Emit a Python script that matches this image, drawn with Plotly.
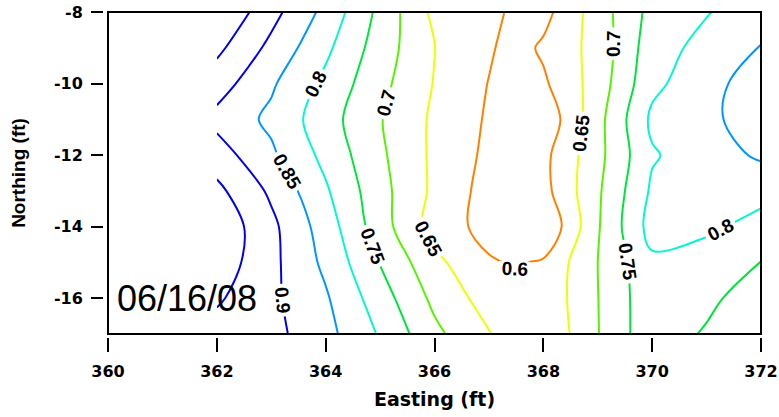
import plotly.graph_objects as go

# grid of the measured field (Easting columns, Northing rows)
easting = [362, 363, 364, 365, 366, 367, 367.5, 368, 369, 370, 371, 372]
northing = [-17, -16, -15, -14, -13, -12, -11, -10, -9, -8]

row_m17 = [0.930, 0.915, 0.866, 0.795, 0.712, 0.653, 0.620, 0.605, 0.698, 0.785, 0.743, 0.700]
row_m16 = [0.957, 0.911, 0.856, 0.773, 0.688, 0.628, 0.615, 0.612, 0.699, 0.785, 0.765, 0.715]
row_m15 = [0.980, 0.913, 0.839, 0.748, 0.663, 0.605, 0.595, 0.606, 0.700, 0.790, 0.775, 0.749]
row_m14 = [0.988, 0.912, 0.826, 0.723, 0.628, 0.583, 0.560, 0.552, 0.695, 0.820, 0.810, 0.782]
row_m13 = [0.9625, 0.891, 0.8065, 0.717, 0.6394, 0.5806, 0.565, 0.583, 0.692, 0.808, 0.812, 0.817]
row_m12 = [0.924, 0.8586, 0.786, 0.709, 0.6398, 0.589, 0.570, 0.586, 0.685, 0.795, 0.828, 0.857]
row_m11 = [0.885, 0.8395, 0.772, 0.703, 0.641, 0.594, 0.572, 0.562, 0.683, 0.810, 0.841, 0.870]
row_m10 = [0.923, 0.857, 0.7875, 0.7145, 0.6475, 0.5985, 0.575, 0.592, 0.6726, 0.788, 0.832, 0.877]
row_m9 = [0.962, 0.887, 0.811, 0.726, 0.651, 0.606, 0.581, 0.608, 0.668, 0.778, 0.816, 0.852]
row_m8 = [1.000, 0.917, 0.836, 0.737, 0.637, 0.608, 0.594, 0.583, 0.675, 0.766, 0.797, 0.830]

z_rows = [row_m17, row_m16, row_m15, row_m14, row_m13, row_m12,
          row_m11, row_m10, row_m9, row_m8]

x_ticks = [360, 362, 364, 366, 368, 370, 372]
y_ticks = [-16, -14, -12, -10, -8]
date_label = "06/16/08"

# line colours for levels 0.60 .. 0.95
level_colors = [
    [0 / 7, "rgb(255,128,0)"],
    [1 / 7, "rgb(255,255,0)"],
    [2 / 7, "rgb(128,255,0)"],
    [3 / 7, "rgb(0,220,0)"],
    [4 / 7, "rgb(0,235,120)"],
    [5 / 7, "rgb(0,255,255)"],
    [6 / 7, "rgb(0,128,255)"],
    [7 / 7, "rgb(0,0,235)"],
]

fig = go.Figure()
fig.add_trace(go.Contour(
    x=easting, y=northing, z=z_rows,
    zauto=False, zmin=0.6, zmax=0.95,
    colorscale=level_colors, showscale=False,
    autocontour=False,
    contours=dict(start=0.6, end=0.95, size=0.05, coloring="lines",
                  showlabels=True,
                  labelfont=dict(family="Liberation Sans, Arial", size=19,
                                 color="black", weight="bold")),
    line=dict(width=2, smoothing=1.0),
    hoverinfo="skip",
))

W, H = 779, 417
L, R, T, B = 103, 18, 12, 80
pw = W - L - R
ph = H - T - B
xd0 = 5 / pw
yd0 = 3 / ph

tickfont = dict(family="DejaVu Sans", size=16, color="black")

fig.update_layout(
    template="none",
    width=W, height=H,
    margin=dict(l=L, r=R, t=T, b=B),
    paper_bgcolor="white", plot_bgcolor="white",
    showlegend=False,
    xaxis=dict(domain=[xd0, 1], range=[360, 372], anchor="free", position=0,
               automargin=False, ticklabeloverflow="allow",
               tickvals=x_ticks, ticktext=[f"<b>{v}</b>" for v in x_ticks],
               ticks="outside", ticklen=14, tickwidth=1.5, tickcolor="black",
               ticklabelstandoff=6,
               showgrid=False, zeroline=False, showline=False,
               tickfont=tickfont,
               title=dict(text="<b>Easting (ft)</b>", standoff=12,
                          font=dict(family="DejaVu Sans", size=19, color="black"))),
    yaxis=dict(domain=[yd0, 1], range=[-17, -8], anchor="free", position=0,
               automargin=False, ticklabeloverflow="allow",
               tickvals=y_ticks, ticktext=[f"<b>{v}</b>" for v in y_ticks],
               ticks="outside", ticklen=12, tickwidth=1.5, tickcolor="black",
               ticklabelstandoff=5,
               showgrid=False, zeroline=False, showline=False,
               tickfont=tickfont,
               title=dict(text="<b>Northing (ft)</b>", standoff=22,
                          font=dict(family="Liberation Sans, Arial", size=19, color="black"))),
    shapes=[dict(type="rect", xref="paper", yref="paper",
                 x0=xd0, x1=1, y0=yd0, y1=1,
                 line=dict(color="black", width=2), fillcolor="rgba(0,0,0,0)")],
    annotations=[dict(x=360.12, y=-16.0, xref="x", yref="y", text=date_label,
                      showarrow=False, xanchor="left", yanchor="middle",
                      font=dict(family="Liberation Sans, Arial", size=36, color="black"))],
)

fig.write_html("out.html", config={"displayModeBar": False},
               post_script="document.body.style.margin='0px';")
